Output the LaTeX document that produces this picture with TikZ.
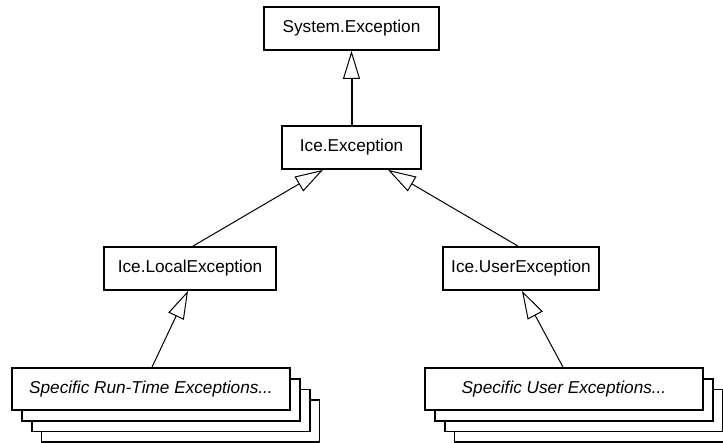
\documentclass[tikz,border=0pt]{standalone}
\usepackage{fontspec}
\setmainfont{Liberation Sans}
\usetikzlibrary{arrows.meta}
\begin{document}
\begin{tikzpicture}[x=1bp,y=-1bp,
  cls/.style={draw, line width=1.8bp, fill=white, inner sep=0pt, font=\fontsize{17.2bp}{20bp}\selectfont},
  stk/.style={cls, minimum width=278bp, minimum height=42bp, font=\fontsize{17.2bp}{20bp}\selectfont\itshape},
  inh/.style={line width=1bp, -{Triangle[open, length=28bp, width=17bp, line width=1bp, fill=white]}},
  inhthick/.style={inh, line width=2bp}]
\clip (0,0) rectangle (723,443);
\fill[white] (0,0) rectangle (723,443);
\node[cls, minimum width=175bp, minimum height=43bp] (sys) at (351.5,28.5) {System.Exception};
\node[cls, minimum width=139bp, minimum height=43bp] (ice) at (351.5,147.5) {Ice.Exception};
\node[cls, minimum width=172bp, minimum height=43bp] (local) at (190,268.5) {Ice.LocalException};
\node[cls, minimum width=156bp, minimum height=43bp] (user) at (521,268.5) {Ice.UserException};
% run-time stack
\node[stk] (rt4) at (180.5,421) {};
\node[stk] (rt3) at (171,410.5) {};
\node[stk] (rt2) at (161,400) {};
\node[stk] (rt) at (151,389) {Specific Run-Time Exceptions...};
% user stack
\node[stk] (ue4) at (593.5,421) {};
\node[stk] (ue3) at (584,410.5) {};
\node[stk] (ue2) at (574,400) {};
\node[stk] (ue) at (564,389) {Specific User Exceptions...};
% connectors
\draw[inhthick] (ice.north) -- (sys.south);
\draw[inh] ([xshift=3bp]local.north) -- ([xshift=-28.5bp]ice.south);
\draw[inh] ([xshift=-3bp]user.north) -- ([xshift=36.5bp]ice.south);
\draw[inh] ([xshift=1bp]rt.north) -- ([xshift=-2bp]local.south);
\draw[inh] ([xshift=-1bp]ue.north) -- ([xshift=1bp]user.south);
\end{tikzpicture}
\end{document}
